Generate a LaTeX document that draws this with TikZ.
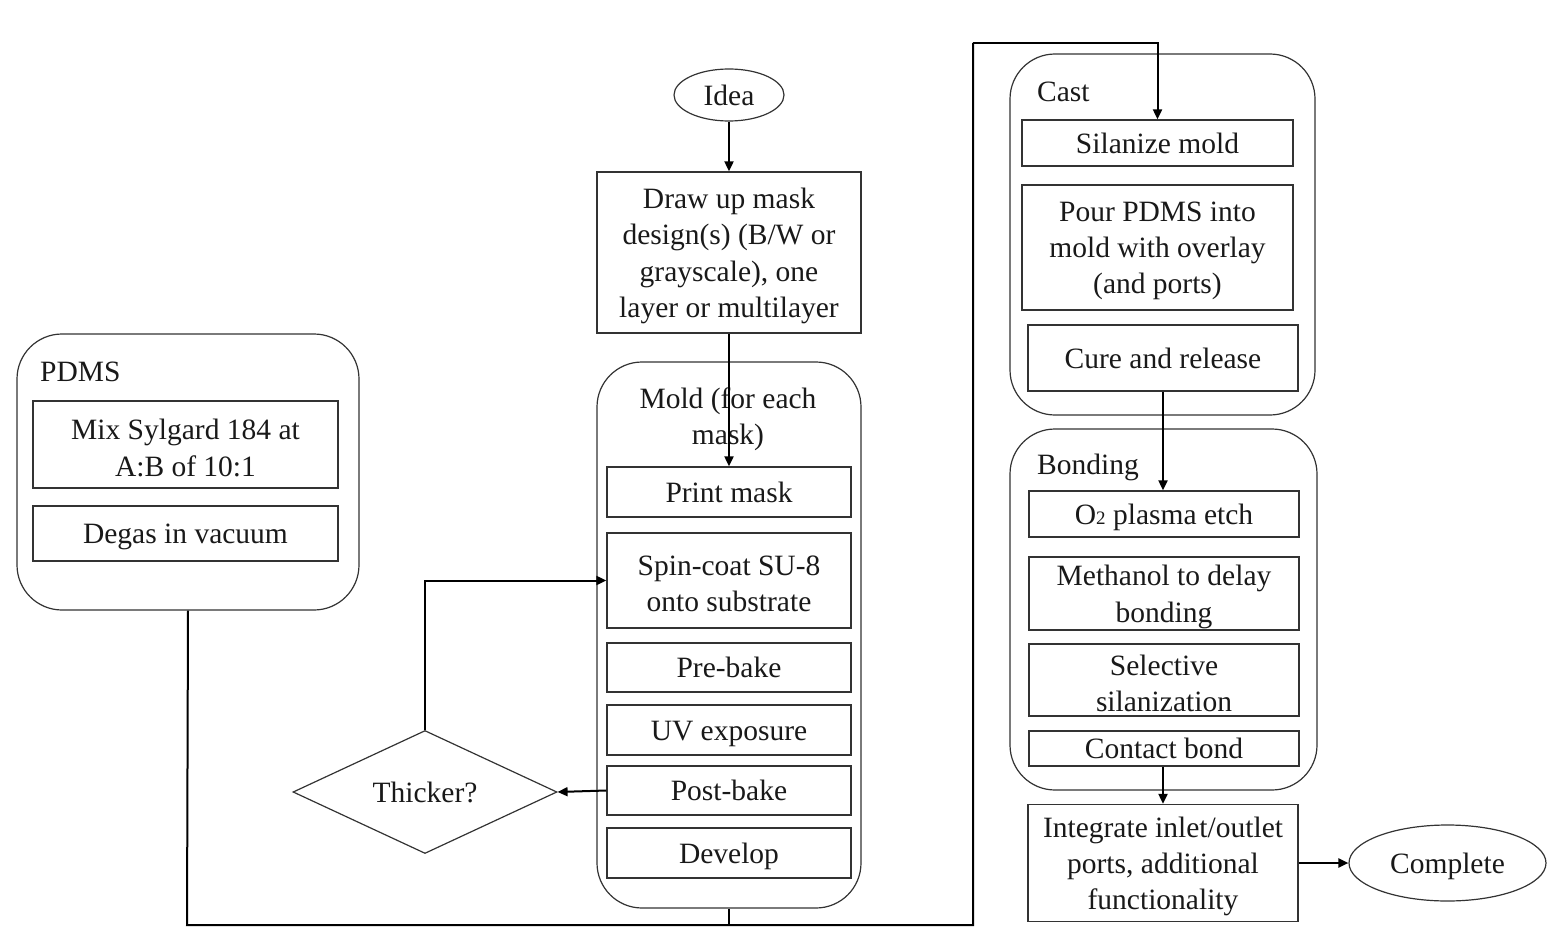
\documentclass[tikz,border=0pt]{standalone}
\usepackage{fontspec}
\setmainfont{Liberation Serif}
\usetikzlibrary{shapes.geometric,arrows.meta}
\begin{document}
\begin{tikzpicture}[x=1pt,y=-1pt,
  every node/.style={font=\fontsize{29.5}{36.3}\selectfont, text=black!90},
  stepbox/.style={draw=black!80, line width=1.3pt, inner sep=0pt},
  groupbox/.style={draw=black!80, line width=1.2pt, rounded corners=45pt, inner sep=0pt},
  oval/.style={draw=black!80, line width=1.2pt, ellipse, inner sep=0pt},
  decision/.style={draw=black!80, line width=1.2pt, diamond, inner sep=0pt},
  tl/.style={inner sep=0pt, align=center},
  sl/.style={tl, text height=20pt, text depth=6.5pt},
  conn/.style={draw=black, line width=2pt},
  arr/.style={conn, -{Triangle[length=10pt,width=9pt]}}
]
\useasboundingbox (0,0) rectangle (1566,939);
\def\dn{-3.5pt}

% containers
\node[groupbox, minimum width=342, minimum height=276] (pdms) at (188,472) {};
\node[groupbox, minimum width=264, minimum height=546] (mold) at (729,635) {};
\node[groupbox, minimum width=305, minimum height=361] (cast) at (1162.5,234.5) {};
\node[groupbox, minimum width=307, minimum height=361] (bonding) at (1163.5,609.5) {};

% titles
\node[sl, anchor=west] (pdmst) at (40,375) {PDMS};
\node[tl] (moldt) at (728,419) {Mold (for each\\mask)};
\node[sl, anchor=west] (castt) at (1037,95) {Cast};
\node[sl, anchor=west] (bondt) at (1037,468) {Bonding};

% shapes
\node[oval, minimum width=110, minimum height=52] (idea) at (729,95) {};
\node[stepbox, minimum width=264, minimum height=161] (draw) at (729,252.5) {};
\node[stepbox, minimum width=305, minimum height=87] (mix) at (185.5,444.5) {};
\node[stepbox, minimum width=305, minimum height=55] (degas) at (185.5,533.5) {};
\node[stepbox, minimum width=244, minimum height=50] (print) at (729,492) {};
\node[stepbox, minimum width=244, minimum height=95] (spin) at (729,580.5) {};
\node[stepbox, minimum width=244, minimum height=49] (pre) at (729,667.5) {};
\node[stepbox, minimum width=244, minimum height=50] (uv) at (729,730) {};
\node[stepbox, minimum width=244, minimum height=49] (post) at (729,790.5) {};
\node[stepbox, minimum width=244, minimum height=50] (dev) at (729,853) {};
\node[decision, minimum width=264, minimum height=123] (thick) at (425,792) {};
\node[stepbox, minimum width=271, minimum height=46] (sil) at (1157.5,143) {};
\node[stepbox, minimum width=271, minimum height=125] (pour) at (1157.5,247.5) {};
\node[stepbox, minimum width=270, minimum height=66] (cure) at (1163,358) {};
\node[stepbox, minimum width=270, minimum height=46] (o2) at (1164,514) {};
\node[stepbox, minimum width=270, minimum height=73] (meth) at (1164,593.5) {};
\node[stepbox, minimum width=270, minimum height=72] (sel) at (1164,680) {};
\node[stepbox, minimum width=270, minimum height=35] (contact) at (1164,748.5) {};
\node[stepbox, minimum width=270, minimum height=117] (integ) at (1163,863) {};
\node[oval, minimum width=197, minimum height=76] (complete) at (1447.5,863) {};

% texts
\node[sl] (idea-t) at ([yshift=\dn]idea.center) {Idea};
\node[tl] (draw-t) at ([yshift=\dn]draw.center) {Draw up mask\\design(s) (B/W or\\grayscale), one\\layer or multilayer};
\node[tl] (mix-t) at ([yshift=\dn]mix.center) {Mix Sylgard 184 at\\A:B of 10:1};
\node[sl] (degas-t) at ([yshift=\dn]degas.center) {Degas in vacuum};
\node[sl] (print-t) at ([yshift=\dn]print.center) {Print mask};
\node[tl] (spin-t) at ([yshift=\dn]spin.center) {Spin-coat SU-8\\onto substrate};
\node[sl] (pre-t) at ([yshift=\dn]pre.center) {Pre-bake};
\node[sl] (uv-t) at ([yshift=\dn]uv.center) {UV exposure};
\node[sl] (post-t) at ([yshift=\dn]post.center) {Post-bake};
\node[sl] (dev-t) at ([yshift=\dn]dev.center) {Develop};
\node[sl] (thick-t) at ([yshift=\dn]thick.center) {Thicker?};
\node[sl] (sil-t) at ([yshift=\dn]sil.center) {Silanize mold};
\node[tl] (pour-t) at ([yshift=\dn]pour.center) {Pour PDMS into\\mold with overlay\\(and ports)};
\node[sl] (cure-t) at ([yshift=\dn]cure.center) {Cure and release};
\node[sl] (o2-t) at ([yshift=\dn]o2.center) {O{\fontsize{19}{19}\selectfont 2} plasma etch};
\node[tl] (meth-t) at ([yshift=\dn]meth.center) {Methanol to delay\\bonding};
\node[tl] (sel-t) at ([yshift=\dn]sel.center) {Selective\\silanization};
\node[sl] (contact-t) at ([yshift=\dn]contact.center) {Contact bond};
\node[tl] (integ-t) at ([yshift=\dn]integ.center) {Integrate inlet/outlet\\ports, additional\\functionality};
\node[sl] (complete-t) at ([yshift=\dn]complete.center) {Complete};

% connectors
\coordinate (bl) at (187,925);
\coordinate (br) at (973,925);
\coordinate (tr) at (973,43);

\draw[arr] (idea.south) -- (draw.north);
\draw[arr] (draw.south) -- (print.north);
\draw[arr] (post.west) -- (thick.east);
\draw[arr] (thick.north) |- (spin.west);
\draw[conn] (pdms.south) -- (bl) -- (br) -- (tr);
\draw[arr] (tr) -| (sil.north);
\draw[conn] (mold.south) -- (mold.south |- bl);
\draw[arr] (cure.south) -- (cure.south |- o2.north);
\draw[arr] (contact.south -| cure.south) -- (cure.south |- integ.north);
\draw[arr] (integ.east) -- (complete.west);
\end{tikzpicture}
\end{document}
